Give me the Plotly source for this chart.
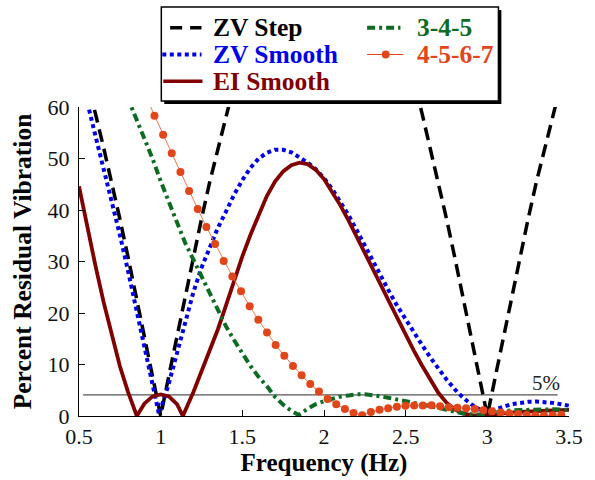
import plotly.graph_objects as go

# ---------------- data ----------------
freq_step = [0.50, 0.55, 0.60, 0.65, 0.70, 0.75, 0.80, 0.85, 0.90, 0.95, 1.00, 1.05, 1.10, 1.15, 1.20,
             1.25, 1.30, 1.35, 1.40, 1.45, 1.50, 1.55, 1.60, 1.65, 1.70, 1.75, 1.80, 1.85, 1.90, 1.95,
             2.00, 2.05, 2.10, 2.15, 2.20, 2.25, 2.30, 2.35, 2.40, 2.45, 2.50, 2.55, 2.60, 2.65, 2.70,
             2.75, 2.80, 2.85, 2.90, 2.95, 3.00, 3.05, 3.10, 3.15, 3.20, 3.25, 3.30, 3.35, 3.40, 3.45, 3.50]
zv_step = [70.7, 64.9, 58.8, 52.2, 45.4, 38.3, 30.9, 23.3, 15.6, 7.8, 0.0, 7.8, 15.6, 23.3, 30.9,
           38.3, 45.4, 52.2, 58.8, 64.9, 70.7, 76.0, 80.9, 85.3, 89.1, 92.4, 95.1, 97.2, 98.8, 99.7,
           100.0, 99.7, 98.8, 97.2, 95.1, 92.4, 89.1, 85.3, 80.9, 76.0, 70.7, 64.9, 58.8, 52.2, 45.4,
           38.3, 30.9, 23.3, 15.6, 7.8, 0.0, 7.8, 15.6, 23.3, 30.9, 38.3, 45.4, 52.2, 58.8, 64.9, 70.7]

freq_zvs = [0.50, 0.55, 0.60, 0.65, 0.70, 0.75, 0.80, 0.85, 0.90, 0.95, 0.99, 1.05, 1.10, 1.15, 1.20,
            1.25, 1.30, 1.35, 1.40, 1.45, 1.50, 1.55, 1.60, 1.65, 1.70, 1.75, 1.80, 1.85, 1.90, 1.95,
            2.00, 2.05, 2.10, 2.15, 2.20, 2.25, 2.30, 2.35, 2.40, 2.45, 2.50, 2.55, 2.60, 2.65, 2.70,
            2.75, 2.80, 2.85, 2.90, 2.95, 3.00, 3.05, 3.10, 3.15, 3.20, 3.25, 3.30, 3.35, 3.40, 3.45, 3.50]
zv_smooth = [66.5, 61.0, 54.5, 48.2, 41.8, 35.2, 28.2, 20.8, 13.2, 6.0, 0.3, 6.3, 12.0, 18.2, 24.0,
             28.8, 32.8, 36.5, 39.7, 43.0, 45.8, 48.2, 50.0, 51.1, 51.7, 51.7, 51.2, 50.3, 49.2, 47.9,
             46.2, 44.1, 41.7, 39.0, 36.1, 33.0, 30.0, 27.0, 24.1, 21.3, 18.7, 16.2, 13.8, 11.4, 9.2,
             7.1, 5.2, 3.6, 2.3, 1.3, 0.8, 1.2, 1.8, 2.3, 2.6, 2.75, 2.8, 2.75, 2.55, 2.3, 2.0]

freq_ei = [0.50, 0.55, 0.60, 0.65, 0.70, 0.75, 0.80, 0.854, 0.90, 0.95, 1.00, 1.05, 1.10, 1.136, 1.20,
           1.25, 1.30, 1.35, 1.40, 1.45, 1.50, 1.55, 1.60, 1.65, 1.70, 1.75, 1.80, 1.85, 1.90, 1.95,
           2.00, 2.05, 2.10, 2.15, 2.20, 2.25, 2.30, 2.35, 2.40, 2.45, 2.50, 2.55, 2.60, 2.65, 2.70,
           2.75, 2.80, 2.85, 2.90, 2.95, 3.00, 3.10, 3.20, 3.30, 3.40, 3.50]
ei_smooth = [44.6, 36.8, 29.3, 22.2, 15.6, 9.7, 4.7, 0.0, 2.4, 3.8, 4.2, 3.8, 2.3, 0.0, 4.6,
             8.6, 12.5, 16.8, 21.5, 26.3, 31.0, 35.2, 39.2, 42.7, 45.5, 47.5, 48.7, 49.2, 48.9, 47.8,
             46.0, 43.6, 40.9, 38.0, 34.9, 31.7, 28.5, 25.3, 22.1, 18.9, 15.8, 12.7, 9.8, 7.0, 4.5,
             2.6, 1.3, 0.5, 0.15, 0.1, 0.2, 0.5, 0.8, 1.0, 1.1, 1.2]

freq_345 = [0.75, 0.82, 0.85, 0.90, 0.95, 1.00, 1.05, 1.10, 1.15, 1.20, 1.25, 1.30, 1.35, 1.40, 1.45,
            1.50, 1.55, 1.60, 1.65, 1.70, 1.75, 1.80, 1.845, 1.90, 1.95, 2.00, 2.05, 2.10, 2.15, 2.20,
            2.25, 2.30, 2.35, 2.40, 2.45, 2.50, 2.55, 2.60, 2.65, 2.70, 2.75, 2.80, 2.85, 2.90, 2.95,
            3.00, 3.05, 3.10, 3.15, 3.20, 3.30, 3.40, 3.50]
shaper_345 = [65.5, 60.0, 57.6, 54.0, 50.0, 45.6, 41.5, 37.4, 33.6, 30.4, 27.2, 23.9, 20.4, 17.4, 14.7,
              12.1, 9.7, 7.6, 5.8, 3.7, 2.2, 1.0, 0.2, 1.4, 2.3, 2.9, 3.4, 3.75, 4.0, 4.2,
              4.2, 4.05, 3.8, 3.5, 3.2, 2.9, 2.6, 2.3, 2.0, 1.6, 1.2, 0.8, 0.5, 0.35, 0.3,
              0.45, 0.7, 0.95, 1.1, 1.15, 1.25, 1.3, 1.2]

freq_4567 = [0.909, 0.962, 1.015, 1.068, 1.121, 1.174, 1.227, 1.280, 1.333, 1.386, 1.439, 1.492, 1.545,
             1.598, 1.651, 1.704, 1.757, 1.810, 1.863, 1.916, 1.969, 2.022, 2.075, 2.128, 2.181,
             2.234, 2.287, 2.340, 2.393, 2.446, 2.499, 2.552, 2.605, 2.658, 2.711, 2.764, 2.817,
             2.870, 2.923, 2.976, 3.029, 3.082, 3.135, 3.188, 3.241, 3.294, 3.347, 3.400, 3.453]
shaper_4567 = [62.1, 58.3, 54.6, 51.0, 47.4, 43.7, 40.2, 36.7, 33.4, 30.1, 27.1, 24.2, 21.3,
               18.7, 16.2, 13.8, 11.7, 9.7, 7.9, 6.2, 4.75, 3.3, 2.3, 1.35, 0.6,
               0.13, 0.8, 1.2, 1.5, 1.8, 2.0, 2.05, 2.05, 2.1, 1.9, 1.7, 1.6,
               1.5, 1.35, 1.1, 0.9, 0.7, 0.5, 0.4, 0.2, 0.1, 0.1, 0.15, 0.25]

threshold_x = [0.525, 3.43]
threshold_y = [4.1, 4.1]
threshold_label = "5%"

x_ticks = [0.5, 1, 1.5, 2, 2.5, 3, 3.5]
x_ticklabels = ["0.5", "1", "1.5", "2", "2.5", "3", "3.5"]
y_ticks = [0, 10, 20, 30, 40, 50, 60]

series_names = ["ZV Step", "ZV Smooth", "EI Smooth", "3-4-5", "4-5-6-7"]
series_colors = ["#000000", "#0000E6", "#800000", "#0F6B23", "#E0461A"]

# ---------------- figure ----------------
SERIF = "Liberation Serif, Times New Roman, serif"
W, H = 595, 480
ML, MR, MT, MB = 79, 16, 107, 61
PW, PH = W - ML - MR, H - MT - MB


def px_x(px):
    return (px - ML) / PW


def px_y(py):
    return (H - MB - py) / PH


fig = go.Figure()

fig.add_trace(go.Scatter(x=threshold_x, y=threshold_y, mode="lines",
                         line=dict(color="#555555", width=1.2), showlegend=False, hoverinfo="skip"))
fig.add_trace(go.Scatter(x=freq_step, y=zv_step, mode="lines", name=series_names[0],
                         line=dict(color=series_colors[0], width=3.5, dash="13px,7px")))
fig.add_trace(go.Scatter(x=freq_zvs, y=zv_smooth, mode="lines", name=series_names[1],
                         line=dict(color=series_colors[1], width=4, dash="4px,3.5px")))
fig.add_trace(go.Scatter(x=freq_ei, y=ei_smooth, mode="lines", name=series_names[2],
                         line=dict(color=series_colors[2], width=3.8)))
fig.add_trace(go.Scatter(x=freq_345, y=shaper_345, mode="lines", name=series_names[3],
                         line=dict(color=series_colors[3], width=4, dash="8px,4px,3px,4px")))
fig.add_trace(go.Scatter(x=freq_4567, y=shaper_4567, mode="lines+markers", name=series_names[4],
                         line=dict(color="#F07850", width=1),
                         marker=dict(color=series_colors[4], size=8)))

for tr in fig.data:
    tr.showlegend = False

annotations = [dict(x=3.36, y=threshold_y[0], xref="x", yref="y", text=threshold_label,
                    showarrow=False, xanchor="center", yanchor="bottom", yshift=-2,
                    font=dict(family=SERIF, size=21, color="#222222"))]

shapes = []
# legend box with drop shadow
box = (163, 6, 507, 101)
shapes.append(dict(type="rect", xref="paper", yref="paper", layer="above",
                   x0=px_x(box[0] + 3), x1=px_x(box[2] + 3), y0=px_y(box[3] + 3), y1=px_y(box[1] + 3),
                   fillcolor="black", line=dict(width=0)))
shapes.append(dict(type="rect", xref="paper", yref="paper", layer="above",
                   x0=px_x(box[0]), x1=px_x(box[2]), y0=px_y(box[3]), y1=px_y(box[1]),
                   fillcolor="white", line=dict(color="black", width=1.5)))

legend_items = [
    (0, 172, 204, 27, 214, dict(width=3.5, dash="12px,8px")),
    (1, 164, 204, 54, 214, dict(width=4, dash="4px,3.5px")),
    (2, 165, 205, 81, 214, dict(width=3.5, dash="solid")),
    (3, 373, 407, 27, 422, dict(width=4, dash="8px,4px,3px,4px")),
    (4, 373, 410, 54, 422, dict(width=1, dash="solid")),
]
for idx, sx0, sx1, ry, tx, lstyle in legend_items:
    shapes.append(dict(type="line", xref="paper", yref="paper", layer="above",
                       x0=px_x(sx0), x1=px_x(sx1), y0=px_y(ry), y1=px_y(ry),
                       line=dict(color=series_colors[idx], **lstyle)))
    annotations.append(dict(x=px_x(tx), y=px_y(ry), xref="paper", yref="paper",
                            text="<b>%s</b>" % series_names[idx], showarrow=False,
                            xanchor="left", yanchor="middle",
                            font=dict(family=SERIF, size=25.5, color=series_colors[idx])))
# marker for the 4-5-6-7 legend symbol
shapes.append(dict(type="circle", xref="paper", yref="paper", layer="above",
                   x0=px_x(388), x1=px_x(396), y0=px_y(58), y1=px_y(50),
                   fillcolor=series_colors[4], line=dict(width=0)))

fig.update_layout(
    width=W, height=H,
    margin=dict(l=ML, r=MR, t=MT, b=MB, pad=0),
    paper_bgcolor="white", plot_bgcolor="white",
    font=dict(family=SERIF, color="black"),
    showlegend=False,
    annotations=annotations,
    shapes=shapes,
    xaxis=dict(range=[0.5, 3.5], tickvals=x_ticks, ticktext=x_ticklabels,
               ticks="inside", ticklen=6, tickwidth=1, tickcolor="black",
               showline=True, linecolor="black", linewidth=1.2, showgrid=False, zeroline=False,
               tickfont=dict(family=SERIF, size=22, color="#111111"),
               title=dict(text="<b>Frequency (Hz)</b>", font=dict(family=SERIF, size=25), standoff=2)),
    yaxis=dict(range=[0, 60], tickvals=y_ticks,
               ticks="inside", ticklen=6, tickwidth=1, tickcolor="black",
               showline=True, linecolor="black", linewidth=1.2, showgrid=False, zeroline=False,
               tickfont=dict(family=SERIF, size=22, color="#111111"),
               ticklabelstandoff=4,
               title=dict(text="<b>Percent Residual Vibration</b>", font=dict(family=SERIF, size=25.5),
                          standoff=8)),
)

fig.write_html("out.html")
